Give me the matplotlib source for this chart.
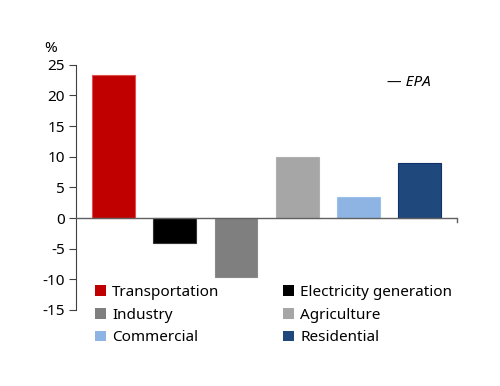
import matplotlib

matplotlib.use("Agg")
import matplotlib.pyplot as plt
from matplotlib.patches import Patch

plt.rcParams["font.family"] = ["Noto Sans", "DejaVu Sans"]

sectors = ["Transportation", "Electricity generation", "Industry",
           "Agriculture", "Commercial", "Residential"]
values = [23.3, -4.0, -9.6, 9.9, 3.4, 9.0]
colors = ["#c00000", "#000000", "#7f7f7f", "#a6a6a6", "#8db4e2", "#1f497d"]
edges = ["#e05050", "#333333", "#8a8a8a", "#b0b0b0", "#9cc0ea", "#10306a"]
yticks = [25, 20, 15, 10, 5, 0, -5, -10, -15]

fig = plt.figure(figsize=(5.0, 3.86), dpi=100)
ax = fig.add_axes([0.152, 0.197, 0.762, 0.635])

x = list(range(len(sectors)))
ax.bar(x, values, width=0.70, color=colors, edgecolor=edges, linewidth=0.8, zorder=2)

ax.set_xlim(-0.613, 5.61)
ax.set_ylim(-15, 25)
ax.set_yticks(yticks)
ax.set_yticklabels([str(t) for t in yticks])
ax.set_xticks([])
ax.tick_params(axis="y", direction="out", length=5, width=0.8, color="#404040",
               labelsize=11, pad=3)
for s in ["top", "right", "bottom"]:
    ax.spines[s].set_visible(False)
ax.spines["left"].set_color("#404040")
ax.spines["left"].set_linewidth(0.8)
ax.axhline(0, color="#606060", lw=1.0, zorder=3)
# small tick at the right end of the zero line
ax.plot([5.61, 5.61], [0, -0.7], color="#606060", lw=1.0, clip_on=False)

fig.text(0.088, 0.855, "%", fontsize=11, ha="left", va="bottom")
ax.text(0.815, 0.93, "\u2014 EPA", transform=ax.transAxes, fontsize=11,
        style="italic", ha="left", va="center")

# legend is filled row by row in the reference: reorder for column-wise fill
order = [0, 2, 4, 1, 3, 5]
handles = [Patch(facecolor=colors[i], edgecolor="none") for i in order]
labels = [sectors[i] for i in order]
fig.legend(handles, labels, ncol=2, loc="upper left", bbox_to_anchor=(0.175, 0.281),
           frameon=False, fontsize=11, handlelength=0.7, handleheight=0.7,
           handletextpad=0.4, columnspacing=4.2, labelspacing=0.5, borderpad=0)

fig.savefig("out.png", dpi=100)
